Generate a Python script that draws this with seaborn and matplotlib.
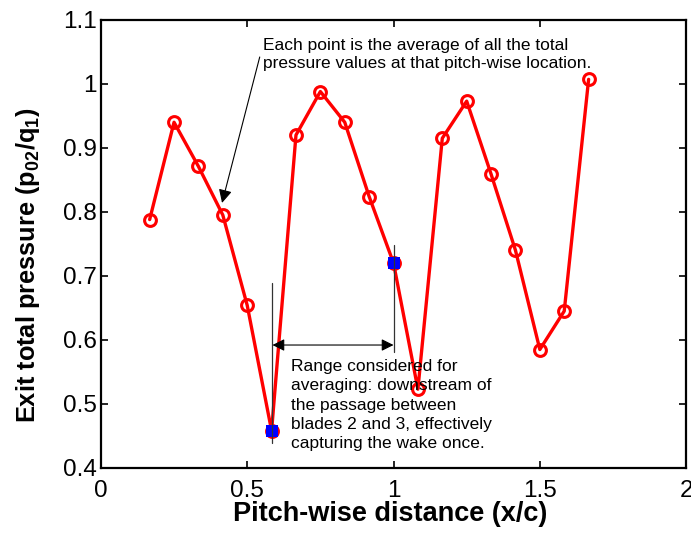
import numpy as np
import pandas as pd
import matplotlib
matplotlib.use("Agg")
import matplotlib.pyplot as plt
import seaborn as sns

# Pitch-wise stations (x/c) and averaged exit total pressure at each
pitch = [2/12, 3/12, 4/12, 5/12, 6/12, 7/12, 8/12, 9/12, 10/12, 11/12,
         12/12, 13/12, 14/12, 15/12, 16/12, 17/12, 18/12, 19/12, 20/12]
pressure = [0.788, 0.940, 0.871, 0.795, 0.654, 0.458, 0.920, 0.988, 0.940,
            0.824, 0.720, 0.523, 0.915, 0.973, 0.859, 0.740, 0.585, 0.645, 1.007]

# Ends of the averaging range (blades 2 and 3 passage)
range_x = [7/12, 12/12]
range_y = [0.458, 0.720]

xticks = [0, 0.5, 1, 1.5, 2]
xtick_labels = ["0", "0.5", "1", "1.5", "2"]
yticks = [0.4, 0.5, 0.6, 0.7, 0.8, 0.9, 1.0, 1.1]
ytick_labels = ["0.4", "0.5", "0.6", "0.7", "0.8", "0.9", "1", "1.1"]

sns.set_style("ticks")
plt.rcParams["font.family"] = ["Liberation Sans", "DejaVu Sans"]
plt.rcParams["mathtext.fontset"] = "custom"
plt.rcParams["mathtext.rm"] = "Liberation Sans"
plt.rcParams["mathtext.bf"] = "Liberation Sans:bold"
plt.rcParams["mathtext.it"] = "Liberation Sans:italic"
for key in ["text.color", "axes.labelcolor", "xtick.color", "ytick.color",
            "axes.edgecolor"]:
    plt.rcParams[key] = "black"

df = pd.DataFrame({"x": pitch, "p": pressure})
ends = pd.DataFrame({"x": range_x, "p": range_y})

fig = plt.figure(figsize=(6.91, 5.36), dpi=100)
ax = fig.add_axes([0.146, 0.127, 0.847, 0.836])

sns.lineplot(data=df, x="x", y="p", ax=ax, color="red", linewidth=2.4,
             marker="o", markersize=8.5, markerfacecolor="none",
             markeredgecolor="red", markeredgewidth=2.2, sort=False)
sns.scatterplot(data=ends, x="x", y="p", ax=ax, marker="s", s=85,
                color="blue", edgecolor="blue", linewidth=0, zorder=5)

# Bracket lines marking the averaging range
ax.plot([range_x[0], range_x[0]], [0.689, 0.439], color="#333333", lw=0.9, zorder=6)
ax.plot([range_x[1], range_x[1]], [0.748, 0.581], color="#333333", lw=0.9, zorder=6)
ax.annotate("", xy=(range_x[0] + 0.003, 0.592), xytext=(range_x[1], 0.592),
            arrowprops=dict(arrowstyle="<|-|>", color="black", lw=0.8,
                            mutation_scale=18, shrinkA=0, shrinkB=0), zorder=7)
ax.text(0.650, 0.570,
        "Range considered for\naveraging: downstream of\nthe passage between\n"
        "blades 2 and 3, effectively\ncapturing the wake once.",
        fontsize=12.5, ha="left", va="top", linespacing=1.36, zorder=8)

# Note on what each point represents
ax.annotate("Each point is the average of all the total\n"
            "pressure values at that pitch-wise location.",
            xy=(0.414, 0.814), xytext=(0.554, 1.071),
            fontsize=12.5, ha="left", va="top", linespacing=1.22,
            arrowprops=dict(arrowstyle="-|>", color="black", lw=0.8,
                            mutation_scale=20, shrinkA=0, shrinkB=0,
                            relpos=(-0.01, 0.43)))

ax.set_xlim(0, 2)
ax.set_ylim(0.4, 1.1)
ax.set_xticks(xticks)
ax.set_xticklabels(xtick_labels)
ax.set_yticks(yticks)
ax.set_yticklabels(ytick_labels)
ax.tick_params(direction="in", length=5, width=1.2, labelsize=17.5,
               top=True, right=True, colors="black")
ax.tick_params(axis="y", pad=3)
ax.tick_params(axis="x", pad=9)
for s in ax.spines.values():
    s.set_visible(True)
    s.set_linewidth(1.6)
    s.set_color("black")

ax.set_xlabel("Pitch-wise distance (x/c)", fontsize=19.5, fontweight="bold")
ax.set_ylabel(r"Exit total pressure (p$_{\mathbf{02}}$/q$_{\mathbf{1}}$)",
              fontsize=18.3, fontweight="bold")
ax.xaxis.set_label_coords(0.495, -0.074)
ax.yaxis.set_label_coords(-0.101, 0.453)

fig.savefig("out.png", dpi=100)
